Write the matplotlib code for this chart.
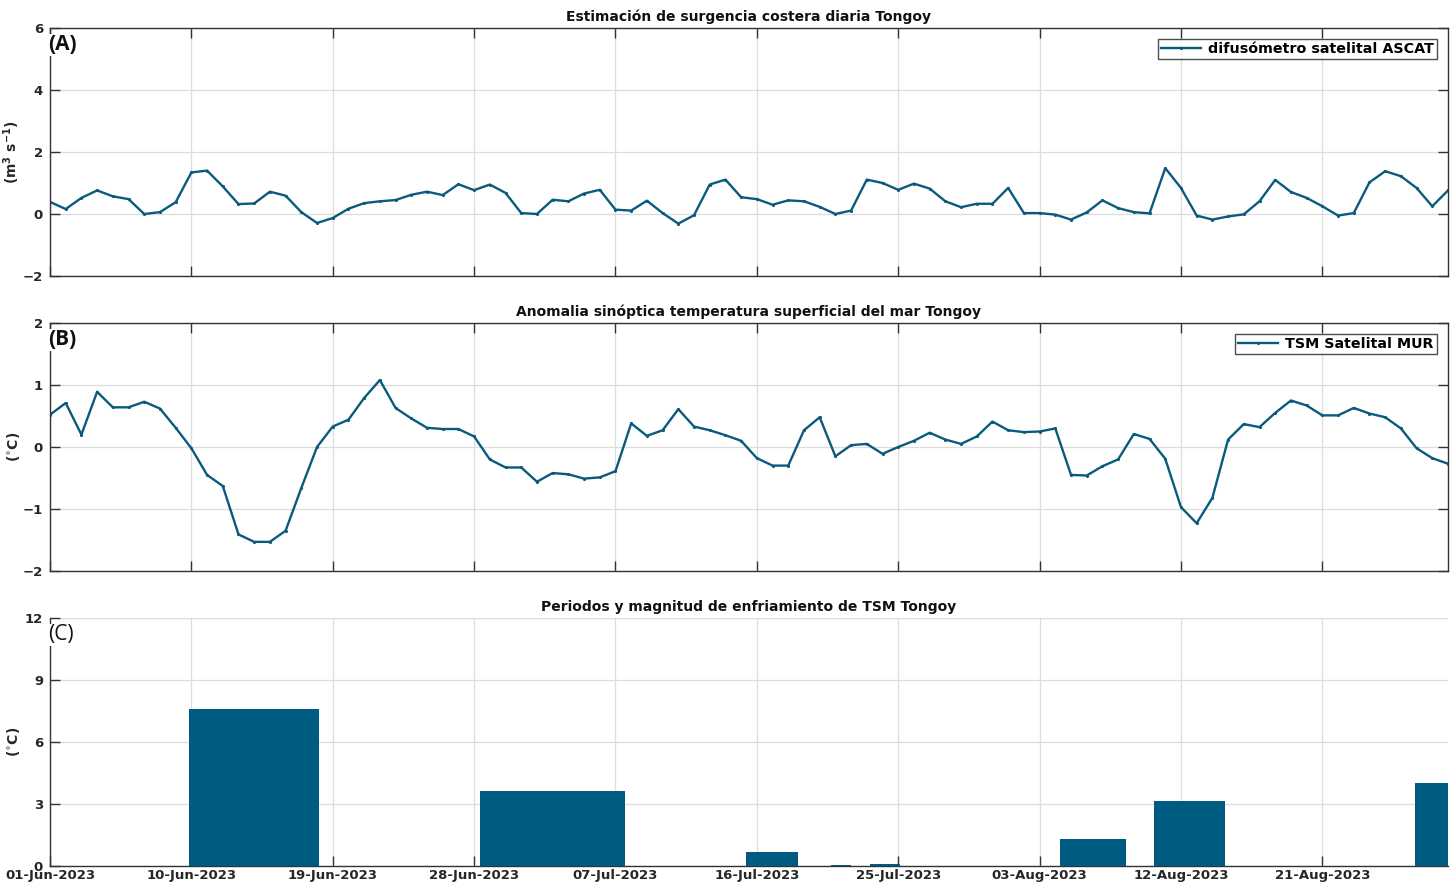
import datetime as dt
import numpy as np
import matplotlib
matplotlib.use("Agg")
import matplotlib.pyplot as plt
import matplotlib.dates as mdates

# ---------------- data ----------------
start_date = dt.date(2023, 6, 1)
n_days = 90
dates = [start_date + dt.timedelta(days=i) for i in range(n_days)]

# Daily coastal upwelling estimate (m3 s-1), ASCAT scatterometer
upwelling = [
    0.39, 0.16, 0.52, 0.76, 0.57, 0.48, 0.00, 0.06, 0.38, 1.34,
    1.40, 0.89, 0.32, 0.34, 0.72, 0.59, 0.06, -0.29, -0.13, 0.17,
    0.35, 0.41, 0.45, 0.62, 0.72, 0.61, 0.96, 0.77, 0.95, 0.68,
    0.03, 0.00, 0.46, 0.41, 0.66, 0.78, 0.14, 0.11, 0.43, 0.03,
    -0.31, -0.04, 0.95, 1.11, 0.54, 0.48, 0.30, 0.44, 0.41, 0.23,
    0.00, 0.11, 1.11, 1.00, 0.78, 0.98, 0.82, 0.41, 0.22, 0.33,
    0.33, 0.84, 0.03, 0.03, -0.02, -0.18, 0.05, 0.44, 0.19, 0.06,
    0.02, 1.48, 0.84, -0.05, -0.18, -0.08, -0.01, 0.41, 1.10, 0.71,
    0.52, 0.25, -0.05, 0.03, 1.02, 1.38, 1.22, 0.84, 0.25, 0.76,
]

# Synoptic SST anomaly (°C), MUR satellite
sst_anomaly = [
    0.52, 0.71, 0.20, 0.89, 0.64, 0.64, 0.73, 0.62, 0.31, -0.02,
    -0.45, -0.63, -1.41, -1.53, -1.53, -1.35, -0.66, 0.00, 0.33, 0.44,
    0.79, 1.08, 0.63, 0.46, 0.31, 0.29, 0.29, 0.17, -0.20, -0.33,
    -0.33, -0.56, -0.42, -0.44, -0.51, -0.49, -0.39, 0.38, 0.18, 0.27,
    0.61, 0.33, 0.27, 0.19, 0.10, -0.18, -0.30, -0.30, 0.27, 0.48,
    -0.15, 0.03, 0.05, -0.11, 0.00, 0.10, 0.23, 0.12, 0.05, 0.17,
    0.41, 0.27, 0.24, 0.25, 0.30, -0.45, -0.46, -0.31, -0.20, 0.21,
    0.13, -0.19, -0.97, -1.23, -0.82, 0.12, 0.37, 0.32, 0.55, 0.75,
    0.67, 0.51, 0.51, 0.63, 0.54, 0.48, 0.30, -0.02, -0.18, -0.27,
]

# Cooling periods: start (days after 01-Jun), duration (days), magnitude (°C)
cool_start = [8.85, 27.4, 44.3, 49.7, 52.2, 64.3, 70.3, 86.9]
cool_length = [8.25, 9.2, 3.3, 1.3, 1.9, 4.2, 4.5, 2.3]
cool_magnitude = [7.6, 3.65, 0.69, 0.07, 0.11, 1.30, 3.16, 4.03]

tick_step_days = 9

# ---------------- style ----------------
line_color = "#0a5a7e"
bar_color = "#005b82"
text_color = "#262626"
grid_color = "#dcdcdc"

plt.rcParams["font.family"] = ["DejaVu Sans"]
plt.rcParams["axes.linewidth"] = 1.0

fig = plt.figure(figsize=(14.55, 8.84), dpi=100)

left, width = 50 / 1455, 1398 / 1455
height = 248 / 884
axA = fig.add_axes([left, 1 - 276 / 884, width, height])
axB = fig.add_axes([left, 1 - 571 / 884, width, height])
axC = fig.add_axes([left, 1 - 866 / 884, width, height])

x = mdates.date2num(dates)
x0 = mdates.date2num(start_date)
xlim = (x0, x0 + n_days - 1)
xticks = [x0 + d for d in range(0, n_days - 1, tick_step_days)]

title_kw = dict(fontsize=10, fontweight="bold", color="#111111", pad=5)
ylabel_x = -0.02


def style_axes(ax, ylim, yticks, box=True):
    ax.set_xlim(*xlim)
    ax.set_ylim(*ylim)
    ax.set_yticks(yticks)
    ax.set_xticks(xticks)
    ax.grid(True, color=grid_color, linewidth=0.9)
    ax.set_axisbelow(True)
    ax.tick_params(direction="in", length=7, width=1.0, colors="#333333",
                   labelcolor=text_color, top=box, right=box, pad=5)
    for lab in ax.get_yticklabels():
        lab.set_fontweight("bold")
        lab.set_fontsize(9.5)
    for s in ax.spines.values():
        s.set_color("#333333")
    if not box:
        ax.spines["top"].set_visible(False)
        ax.spines["right"].set_visible(False)


def add_legend(ax):
    leg = ax.legend(loc="upper right", frameon=True, fancybox=False,
                    edgecolor="#222222", borderpad=0.2, handlelength=2.8,
                    handletextpad=0.5, borderaxespad=0.8,
                    prop={"weight": "bold", "size": 10.3})
    leg.get_frame().set_linewidth(1.0)


# ---- (A) upwelling ----
style_axes(axA, (-2, 6), [-2, 0, 2, 4, 6])
axA.plot(x, upwelling, color=line_color, lw=1.7, marker=".", ms=2.5,
         label="difusómetro satelital ASCAT")
axA.set_xticklabels([])
axA.set_title("Estimación de surgencia costera diaria Tongoy", **title_kw)
axA.set_ylabel(r"$\mathbf{(m^3\ s^{-1})}$", fontsize=10, color=text_color)
axA.yaxis.set_label_coords(ylabel_x, 0.5)
add_legend(axA)

# ---- (B) SST anomaly ----
style_axes(axB, (-2, 2), [-2, -1, 0, 1, 2])
axB.plot(x, sst_anomaly, color=line_color, lw=1.7, marker=".", ms=2.5,
         label="TSM Satelital MUR")
axB.set_xticklabels([])
axB.set_title("Anomalia sinóptica temperatura superficial del mar Tongoy",
              **title_kw)
axB.set_ylabel(r"($^{\circ}$C)", fontsize=10, fontweight="bold",
               color=text_color)
axB.yaxis.set_label_coords(ylabel_x, 0.5)
add_legend(axB)

# ---- (C) cooling periods ----
style_axes(axC, (0, 12), [0, 3, 6, 9, 12], box=False)
axC.bar([x0 + s for s in cool_start], cool_magnitude, width=cool_length,
        align="edge", color=bar_color, edgecolor="none", zorder=3)
axC.xaxis.set_major_formatter(mdates.DateFormatter("%d-%b-%Y"))
for lab in axC.get_xticklabels():
    lab.set_fontweight("bold")
    lab.set_fontsize(9.5)
axC.tick_params(axis="x", pad=2)
axC.set_title("Periodos y magnitud de enfriamiento de TSM Tongoy", **title_kw)
axC.set_ylabel(r"($^{\circ}$C)", fontsize=10, fontweight="bold",
               color=text_color)
axC.yaxis.set_label_coords(ylabel_x, 0.5)

# panel letters
for ax, letter, weight in ((axA, "(A)", "bold"), (axB, "(B)", "bold"),
                           (axC, "(C)", "normal")):
    ax.text(-0.0015, 0.975, letter, transform=ax.transAxes, ha="left", va="top",
            fontsize=15, fontweight=weight, family=["Open Sans", "DejaVu Sans"],
            color="#111111", zorder=10,
            bbox=dict(facecolor="white", edgecolor="none", pad=0.5))

fig.savefig("out.png", dpi=100)
